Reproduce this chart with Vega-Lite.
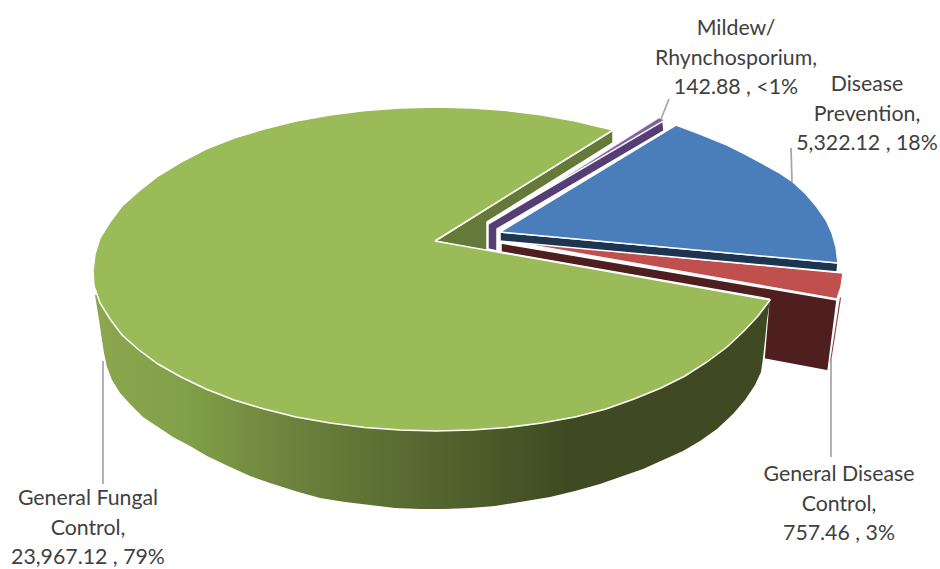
{
  "$schema": "https://vega.github.io/schema/vega-lite/v6.json",
  "width": 940,
  "height": 569,
  "padding": 0,
  "autosize": {"type": "none"},
  "background": "white",
  "config": {"view": {"stroke": null}},
  "datasets": {
    "slices": [
      {"slice": "General Fungal Control", "value": 23967.12, "label": "General Fungal\nControl,\n23,967.12 , 79%", "lx": 88, "ly": 499, "x1": 103, "y1": 361, "x2": 103, "y2": 484},
      {"slice": "Mildew/Rhynchosporium", "value": 142.88, "label": "Mildew/\nRhynchosporium,\n142.88 , <1%", "lx": 736, "ly": 29, "x1": 661, "y1": 119, "x2": 669, "y2": 99},
      {"slice": "Disease Prevention", "value": 5322.12, "label": "Disease\nPrevention,\n5,322.12 , 18%", "lx": 867, "ly": 85, "x1": 792, "y1": 182, "x2": 791, "y2": 148},
      {"slice": "General Disease Control", "value": 757.46, "label": "General Disease\nControl,\n757.46 , 3%", "lx": 839, "ly": 475, "x1": 831, "y1": 360, "x2": 831, "y2": 457}
    ],
    "fungalWall": [
      {"i": 0, "x": 95, "y": 295}, {"i": 1, "x": 770, "y": 300}, {"i": 2, "x": 767, "y": 320},
      {"i": 3, "x": 765, "y": 340}, {"i": 4, "x": 763, "y": 358}, {"i": 5, "x": 761, "y": 372},
      {"i": 6, "x": 755, "y": 385}, {"i": 7, "x": 745, "y": 400}, {"i": 8, "x": 733, "y": 414},
      {"i": 9, "x": 717, "y": 429}, {"i": 10, "x": 700, "y": 441}, {"i": 11, "x": 683, "y": 451},
      {"i": 12, "x": 663, "y": 460}, {"i": 13, "x": 643, "y": 469}, {"i": 14, "x": 620, "y": 477},
      {"i": 15, "x": 600, "y": 484}, {"i": 16, "x": 575, "y": 491}, {"i": 17, "x": 550, "y": 497},
      {"i": 18, "x": 520, "y": 502}, {"i": 19, "x": 495, "y": 506}, {"i": 20, "x": 470, "y": 508},
      {"i": 21, "x": 445, "y": 509}, {"i": 22, "x": 420, "y": 509}, {"i": 23, "x": 395, "y": 508},
      {"i": 24, "x": 370, "y": 505}, {"i": 25, "x": 345, "y": 502}, {"i": 26, "x": 320, "y": 498},
      {"i": 27, "x": 295, "y": 491}, {"i": 28, "x": 270, "y": 483}, {"i": 29, "x": 250, "y": 476},
      {"i": 30, "x": 228, "y": 466}, {"i": 31, "x": 207, "y": 456}, {"i": 32, "x": 190, "y": 446},
      {"i": 33, "x": 173, "y": 437}, {"i": 34, "x": 158, "y": 427}, {"i": 35, "x": 143, "y": 417},
      {"i": 36, "x": 130, "y": 404}, {"i": 37, "x": 120, "y": 393}, {"i": 38, "x": 112, "y": 380},
      {"i": 39, "x": 107, "y": 367}, {"i": 40, "x": 104, "y": 353}, {"i": 41, "x": 102, "y": 340},
      {"i": 42, "x": 99, "y": 320}, {"i": 43, "x": 95, "y": 295}
    ],
    "fungalTop": [
      {"i": 0, "x": 435, "y": 241}, {"i": 1, "x": 613, "y": 130}, {"i": 2, "x": 575, "y": 121},
      {"i": 3, "x": 542, "y": 115}, {"i": 4, "x": 507, "y": 110.5}, {"i": 5, "x": 472, "y": 108},
      {"i": 6, "x": 436, "y": 107}, {"i": 7, "x": 400, "y": 108}, {"i": 8, "x": 365, "y": 110.5},
      {"i": 9, "x": 330, "y": 115}, {"i": 10, "x": 296, "y": 121}, {"i": 11, "x": 264, "y": 129},
      {"i": 12, "x": 234, "y": 138}, {"i": 13, "x": 206, "y": 149}, {"i": 14, "x": 181, "y": 162},
      {"i": 15, "x": 158, "y": 176}, {"i": 16, "x": 139, "y": 191}, {"i": 17, "x": 122, "y": 206},
      {"i": 18, "x": 110, "y": 222}, {"i": 19, "x": 100, "y": 238}, {"i": 20, "x": 95, "y": 254},
      {"i": 21, "x": 93, "y": 271}, {"i": 22, "x": 94, "y": 286}, {"i": 23, "x": 100, "y": 303},
      {"i": 24, "x": 110, "y": 319}, {"i": 25, "x": 122, "y": 335}, {"i": 26, "x": 139, "y": 350},
      {"i": 27, "x": 158, "y": 364}, {"i": 28, "x": 181, "y": 377}, {"i": 29, "x": 206, "y": 389},
      {"i": 30, "x": 234, "y": 400}, {"i": 31, "x": 264, "y": 409}, {"i": 32, "x": 296, "y": 417},
      {"i": 33, "x": 330, "y": 423}, {"i": 34, "x": 365, "y": 427.5}, {"i": 35, "x": 400, "y": 430},
      {"i": 36, "x": 436, "y": 431}, {"i": 37, "x": 472, "y": 430}, {"i": 38, "x": 507, "y": 427.5},
      {"i": 39, "x": 542, "y": 423}, {"i": 40, "x": 575, "y": 417}, {"i": 41, "x": 606, "y": 409},
      {"i": 42, "x": 634, "y": 399}, {"i": 43, "x": 661, "y": 388}, {"i": 44, "x": 685, "y": 376},
      {"i": 45, "x": 707, "y": 362}, {"i": 46, "x": 727, "y": 347}, {"i": 47, "x": 744, "y": 331},
      {"i": 48, "x": 758, "y": 316}, {"i": 49, "x": 770, "y": 300}, {"i": 50, "x": 435, "y": 241}
    ],
    "fungalInner": [
      {"i": 0, "x": 435, "y": 241}, {"i": 1, "x": 613, "y": 130}, {"i": 2, "x": 613, "y": 143},
      {"i": 3, "x": 487, "y": 222}, {"i": 4, "x": 487, "y": 252}, {"i": 5, "x": 435, "y": 241}
    ],
    "mildewWall": [
      {"i": 0, "x": 488, "y": 224}, {"i": 1, "x": 663, "y": 121}, {"i": 2, "x": 664, "y": 131},
      {"i": 3, "x": 497, "y": 229}, {"i": 4, "x": 497, "y": 251}, {"i": 5, "x": 488, "y": 249},
      {"i": 6, "x": 488, "y": 224}
    ],
    "mildewTop": [
      {"i": 0, "x": 553, "y": 185}, {"i": 1, "x": 659, "y": 118}, {"i": 2, "x": 664, "y": 120},
      {"i": 3, "x": 553, "y": 185}
    ],
    "preventionWall": [
      {"i": 0, "x": 500, "y": 232}, {"i": 1, "x": 838, "y": 263}, {"i": 2, "x": 837, "y": 272},
      {"i": 3, "x": 500, "y": 241}, {"i": 4, "x": 500, "y": 232}
    ],
    "preventionTop": [
      {"i": 0, "x": 500, "y": 232}, {"i": 1, "x": 676, "y": 125}, {"i": 2, "x": 700, "y": 134},
      {"i": 3, "x": 727, "y": 145}, {"i": 4, "x": 745, "y": 154}, {"i": 5, "x": 760, "y": 162},
      {"i": 6, "x": 778, "y": 172}, {"i": 7, "x": 793, "y": 182}, {"i": 8, "x": 806, "y": 194},
      {"i": 9, "x": 817, "y": 207}, {"i": 10, "x": 826, "y": 220}, {"i": 11, "x": 832, "y": 233},
      {"i": 12, "x": 836, "y": 247}, {"i": 13, "x": 838, "y": 263}, {"i": 14, "x": 500, "y": 232}
    ],
    "controlWall": [
      {"i": 0, "x": 501, "y": 243}, {"i": 1, "x": 837, "y": 300}, {"i": 2, "x": 828, "y": 371},
      {"i": 3, "x": 764, "y": 359}, {"i": 4, "x": 769, "y": 299}, {"i": 5, "x": 501, "y": 252},
      {"i": 6, "x": 501, "y": 243}
    ],
    "controlEdge": [
      {"i": 0, "x": 840, "y": 297}, {"i": 1, "x": 841, "y": 298}, {"i": 2, "x": 831, "y": 362},
      {"i": 3, "x": 830, "y": 362}, {"i": 4, "x": 840, "y": 297}
    ],
    "controlTop": [
      {"i": 0, "x": 508, "y": 241}, {"i": 1, "x": 843, "y": 273}, {"i": 2, "x": 841, "y": 287},
      {"i": 3, "x": 837, "y": 299}, {"i": 4, "x": 508, "y": 241}
    ]
  },
  "encoding": {
    "x": {"field": "x", "type": "quantitative", "axis": null, "scale": {"domain": [0, 940], "nice": false, "zero": false}},
    "y": {"field": "y", "type": "quantitative", "axis": null, "scale": {"domain": [569, 0], "nice": false, "zero": false}},
    "order": {"field": "i", "type": "ordinal"}
  },
  "layer": [
    {"data": {"name": "fungalInner"}, "mark": {"type": "line", "filled": true, "fill": "#657a39", "stroke": "white", "strokeWidth": 1.5}},
    {"data": {"name": "controlWall"}, "mark": {"type": "line", "filled": true, "fill": "#4e1f1e", "stroke": "white", "strokeWidth": 1.5}},
    {"data": {"name": "controlEdge"}, "mark": {"type": "line", "filled": true, "fill": "#8c3f3d", "strokeWidth": 0}},
    {"data": {"name": "fungalWall"}, "mark": {"type": "line", "filled": true, "strokeWidth": 0,
      "fill": {"gradient": "linear", "x1": 0, "y1": 0, "x2": 1, "y2": 0, "stops": [
        {"offset": 0, "color": "#8ba64f"},
        {"offset": 0.13, "color": "#82a049"},
        {"offset": 0.3, "color": "#6b813c"},
        {"offset": 0.5, "color": "#54662f"},
        {"offset": 0.7, "color": "#3f4a22"},
        {"offset": 1, "color": "#3f4a22"}
      ]}}},
    {"data": {"name": "fungalTop"}, "mark": {"type": "line", "filled": true, "fill": "#9bbb59", "stroke": "white", "strokeWidth": 1.5}},
    {"data": {"name": "mildewWall"}, "mark": {"type": "line", "filled": true, "fill": "#553e73", "stroke": "white", "strokeWidth": 1.5}},
    {"data": {"name": "mildewTop"}, "mark": {"type": "line", "filled": true, "fill": "#8064a2", "stroke": "white", "strokeWidth": 0.5}},
    {"data": {"name": "controlTop"}, "mark": {"type": "line", "filled": true, "fill": "#c0504d", "stroke": "white", "strokeWidth": 1.5}},
    {"data": {"name": "preventionWall"}, "mark": {"type": "line", "filled": true, "fill": "#1d3550", "stroke": "white", "strokeWidth": 1.5}},
    {"data": {"name": "preventionTop"}, "mark": {"type": "line", "filled": true, "fill": "#4a7ebb", "stroke": "white", "strokeWidth": 1.5}},
    {
      "data": {"name": "slices"},
      "mark": {"type": "rule", "stroke": "#a6a6a6", "strokeWidth": 1.75},
      "encoding": {
        "x": {"field": "x1", "type": "quantitative", "axis": null, "scale": {"domain": [0, 940], "nice": false, "zero": false}},
        "y": {"field": "y1", "type": "quantitative", "axis": null, "scale": {"domain": [569, 0], "nice": false, "zero": false}},
        "x2": {"field": "x2"},
        "y2": {"field": "y2"},
        "order": null
      }
    },
    {
      "data": {"name": "slices"},
      "mark": {"type": "text", "font": "Lato", "fontSize": 21.3, "color": "#404040", "align": "center", "baseline": "middle", "lineBreak": "\n", "lineHeight": 29.5},
      "encoding": {
        "x": {"field": "lx", "type": "quantitative", "axis": null, "scale": {"domain": [0, 940], "nice": false, "zero": false}},
        "y": {"field": "ly", "type": "quantitative", "axis": null, "scale": {"domain": [569, 0], "nice": false, "zero": false}},
        "text": {"field": "label", "type": "nominal"},
        "order": null
      }
    }
  ]
}
